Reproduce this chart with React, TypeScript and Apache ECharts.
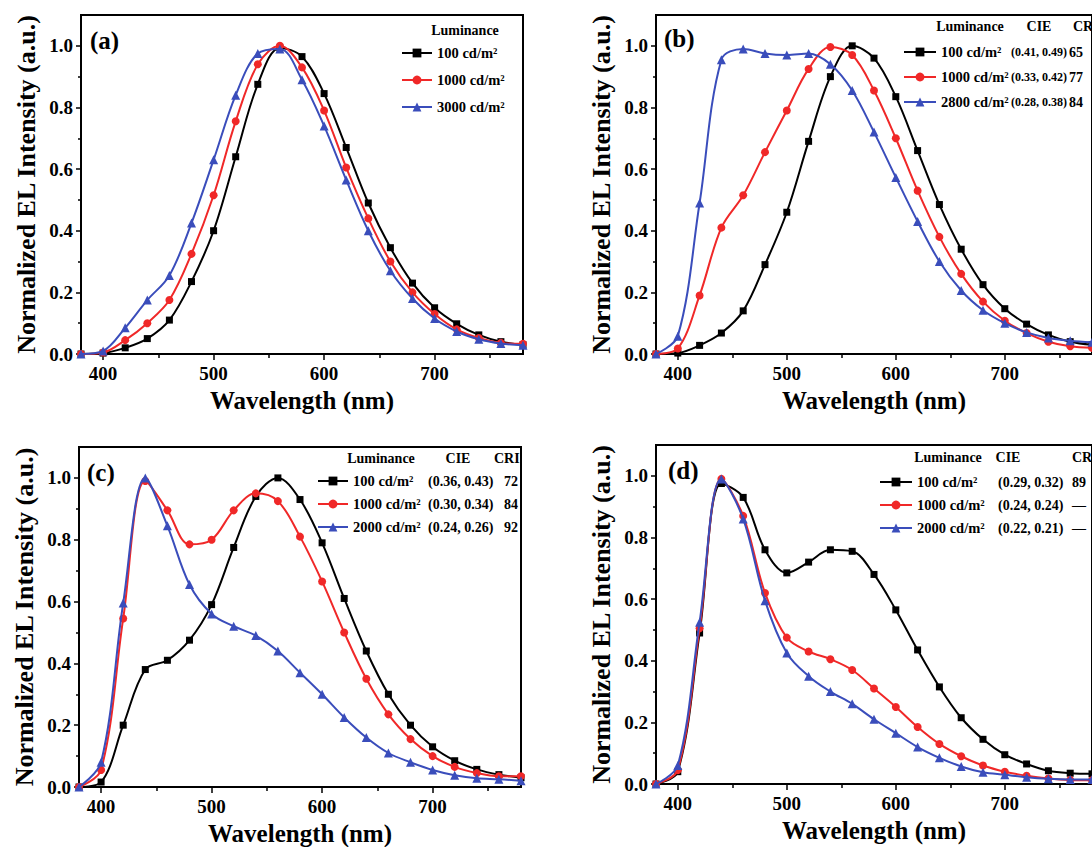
import React, { useEffect, useRef } from "react";
import * as echarts from "echarts";

// ---------- data ----------
const wavelength = [380, 400, 420, 440, 460, 480, 500, 520, 540, 560, 580, 600, 620, 640, 660, 680, 700, 720, 740, 760, 780];

const xTickLabels = [400, 500, 600, 700];
const xMinorTicks = [450, 550, 650, 750];
const yTickLabels = [0, 0.2, 0.4, 0.6, 0.8, 1.0];
const yMinorTicks = [0.1, 0.3, 0.5, 0.7, 0.9];

// (a)
const a100 = [0, 0.003, 0.02, 0.05, 0.11, 0.235, 0.4, 0.64, 0.875, 0.993, 0.965, 0.845, 0.67, 0.49, 0.345, 0.23, 0.15, 0.098, 0.062, 0.04, 0.03];
const a1000 = [0, 0.005, 0.045, 0.1, 0.175, 0.325, 0.515, 0.755, 0.94, 1.0, 0.93, 0.79, 0.605, 0.44, 0.3, 0.2, 0.13, 0.08, 0.052, 0.036, 0.033];
const a3000 = [0, 0.01, 0.085, 0.175, 0.255, 0.425, 0.63, 0.84, 0.975, 0.99, 0.89, 0.74, 0.565, 0.4, 0.27, 0.18, 0.115, 0.073, 0.048, 0.034, 0.028];
// (b)
const b100 = [0, 0.003, 0.028, 0.068, 0.14, 0.29, 0.46, 0.69, 0.9, 1.0, 0.96, 0.835, 0.66, 0.485, 0.34, 0.225, 0.147, 0.097, 0.062, 0.04, 0.03];
const b1000 = [0, 0.018, 0.19, 0.41, 0.515, 0.655, 0.79, 0.925, 0.996, 0.97, 0.855, 0.7, 0.53, 0.38, 0.26, 0.17, 0.108, 0.068, 0.04, 0.025, 0.02];
const b2800 = [0, 0.058, 0.49, 0.955, 0.99, 0.975, 0.97, 0.975, 0.94, 0.855, 0.72, 0.573, 0.43, 0.3, 0.206, 0.142, 0.1, 0.07, 0.052, 0.043, 0.038];
// (c)
const c100 = [0, 0.016, 0.2, 0.38, 0.41, 0.475, 0.59, 0.775, 0.94, 1.0, 0.93, 0.79, 0.61, 0.44, 0.3, 0.2, 0.13, 0.085, 0.057, 0.04, 0.03];
const c1000 = [0, 0.055, 0.545, 0.99, 0.895, 0.785, 0.8, 0.895, 0.95, 0.925, 0.81, 0.665, 0.5, 0.35, 0.235, 0.155, 0.1, 0.065, 0.045, 0.035, 0.035];
const c2000 = [0, 0.08, 0.595, 1.0, 0.845, 0.655, 0.56, 0.52, 0.49, 0.44, 0.37, 0.3, 0.225, 0.16, 0.11, 0.08, 0.055, 0.038, 0.028, 0.025, 0.02];
// (d)
const d100 = [0, 0.04, 0.49, 0.975, 0.93, 0.76, 0.685, 0.72, 0.76, 0.755, 0.68, 0.565, 0.435, 0.315, 0.215, 0.145, 0.095, 0.065, 0.043, 0.035, 0.033];
const d1000 = [0, 0.045, 0.505, 0.99, 0.87, 0.62, 0.475, 0.43, 0.405, 0.37, 0.31, 0.25, 0.185, 0.13, 0.09, 0.06, 0.04, 0.027, 0.018, 0.013, 0.012];
const d2000 = [0, 0.06, 0.525, 0.99, 0.86, 0.595, 0.425, 0.35, 0.3, 0.26, 0.21, 0.165, 0.12, 0.085, 0.057, 0.038, 0.03, 0.022, 0.017, 0.015, 0.015];

const namesA = ["100 cd/m²", "1000 cd/m²", "3000 cd/m²"];
const namesB = ["100 cd/m²", "1000 cd/m²", "2800 cd/m²"];
const namesC = ["100 cd/m²", "1000 cd/m²", "2000 cd/m²"];
const namesD = ["100 cd/m²", "1000 cd/m²", "2000 cd/m²"];

const cieB = ["(0.41, 0.49)", "(0.33, 0.42)", "(0.28, 0.38)"];
const criB = ["65", "77", "84"];
const cieC = ["(0.36, 0.43)", "(0.30, 0.34)", "(0.24, 0.26)"];
const criC = ["72", "84", "92"];
const cieD = ["(0.29, 0.32)", "(0.24, 0.24)", "(0.22, 0.21)"];
const criD = ["89", "—", "—"];

const panelLabels = ["(a)", "(b)", "(c)", "(d)"];

// ---------- styles ----------
const FONT = '"Liberation Serif", "Times New Roman", serif';
const COLORS = ["#000000", "#f02828", "#3a4dbb"];
const SYMBOLS = ["rect", "circle", "triangle"];
const SYMBOL_SIZES = [7, 8, 9];

type Panel = {
  grid: { left: number; top: number; width: number; height: number };
  series: number[][];
  names: string[];
  label: [number, number];
  legend: { left: number; top: number; itemWidth: number; itemGap: number };
  header: { lum: [number, number]; cie?: [number, number]; cri?: [number, number] };
  cie?: { values: string[]; x: number; fontSize: number };
  cri?: { values: string[]; x: number };
  rows: number[];
};

const panels: Panel[] = [
  {
    grid: { left: 81, top: 15, width: 442, height: 339 },
    series: [a100, a1000, a3000],
    names: namesA,
    label: [90, 40],
    legend: { left: 401, top: 45.5, itemWidth: 30, itemGap: 12 },
    header: { lum: [465, 30] },
    rows: [53, 80, 107],
  },
  {
    grid: { left: 656, top: 15, width: 442, height: 339 },
    series: [b100, b1000, b2800],
    names: namesB,
    label: [664, 38],
    legend: { left: 903, top: 44.5, itemWidth: 32, itemGap: 10 },
    header: { lum: [970, 26], cie: [1039, 26], cri: [1073, 26] },
    cie: { values: cieB, x: 1011, fontSize: 12 },
    cri: { values: criB, x: 1069 },
    rows: [52, 77, 102],
  },
  {
    grid: { left: 79, top: 447, width: 442, height: 340 },
    series: [c100, c1000, c2000],
    names: namesC,
    label: [87, 472],
    legend: { left: 317, top: 473.5, itemWidth: 30, itemGap: 8 },
    header: { lum: [381, 458], cie: [458, 458], cri: [494, 458] },
    cie: { values: cieC, x: 428, fontSize: 14 },
    cri: { values: criC, x: 504 },
    rows: [481, 504, 527],
  },
  {
    grid: { left: 656, top: 445, width: 442, height: 339 },
    series: [d100, d1000, d2000],
    names: namesD,
    label: [668, 470],
    legend: { left: 879, top: 474.5, itemWidth: 32, itemGap: 8 },
    header: { lum: [948, 457], cie: [1008, 457], cri: [1072, 457] },
    cie: { values: cieD, x: 998, fontSize: 14 },
    cri: { values: criD, x: 1072 },
    rows: [482, 505, 528],
  },
];

function boldText(text: string, x: number, y: number, fontSize: number, align: string) {
  return {
    type: "text",
    x,
    y,
    silent: true,
    style: {
      text,
      fill: "#000",
      fontSize,
      fontWeight: "bold",
      fontFamily: FONT,
      align,
      verticalAlign: "middle",
    },
  };
}

function buildOption() {
  const grid: any[] = [];
  const xAxis: any[] = [];
  const yAxis: any[] = [];
  const series: any[] = [];
  const legend: any[] = [];
  const graphic: any[] = [];

  panels.forEach((p, i) => {
    grid.push({
      ...p.grid,
      show: true,
      borderColor: "#000",
      borderWidth: 2,
      backgroundColor: "transparent",
      containLabel: false,
    });

    const tickLine = { color: "#000", width: 1.5 };
    const labelFont = { fontSize: 19, fontWeight: "bold", fontFamily: FONT, color: "#000" };

    xAxis.push({
      type: "value",
      gridIndex: i,
      min: 380,
      max: 780,
      position: "bottom",
      axisLine: { show: true, onZero: false, lineStyle: { color: "#000", width: 2 } },
      axisTick: { show: true, customValues: xTickLabels, length: 6, lineStyle: tickLine },
      axisLabel: { show: true, customValues: xTickLabels, margin: 10, ...labelFont },
      splitLine: { show: false },
      name: "Wavelength (nm)",
      nameLocation: "middle",
      nameGap: 34,
      nameTextStyle: { fontSize: 25, fontWeight: "bold", fontFamily: FONT, color: "#000" },
    });
    xAxis.push({
      type: "value",
      gridIndex: i,
      min: 380,
      max: 780,
      position: "bottom",
      axisLine: { show: false, onZero: false },
      axisTick: { show: true, customValues: xMinorTicks, length: 4, lineStyle: tickLine },
      axisLabel: { show: false, customValues: xMinorTicks },
      splitLine: { show: false },
    });
    yAxis.push({
      type: "value",
      gridIndex: i,
      min: 0,
      max: 1.1,
      position: "left",
      axisLine: { show: true, onZero: false, lineStyle: { color: "#000", width: 2 } },
      axisTick: { show: true, customValues: yTickLabels, length: 5, lineStyle: tickLine },
      axisLabel: {
        show: true,
        customValues: yTickLabels,
        margin: 8,
        formatter: (v: number) => v.toFixed(1),
        ...labelFont,
      },
      splitLine: { show: false },
      name: "Normalized EL Intensity (a.u.)",
      nameLocation: "middle",
      nameGap: 42,
      nameTextStyle: { fontSize: 26, fontWeight: "bold", fontFamily: FONT, color: "#000" },
    });
    yAxis.push({
      type: "value",
      gridIndex: i,
      min: 0,
      max: 1.1,
      position: "left",
      axisLine: { show: false, onZero: false },
      axisTick: { show: true, customValues: yMinorTicks, length: 3, lineStyle: tickLine },
      axisLabel: { show: false, customValues: yMinorTicks },
      splitLine: { show: false },
    });

    p.series.forEach((vals, k) => {
      series.push({
        type: "line",
        name: p.names[k],
        xAxisIndex: i * 2,
        yAxisIndex: i * 2,
        data: wavelength.map((w, j) => [w, vals[j]]),
        smooth: 0.35,
        symbol: SYMBOLS[k],
        symbolSize: SYMBOL_SIZES[k],
        showAllSymbol: true,
        lineStyle: { color: COLORS[k], width: 2 },
        itemStyle: { color: COLORS[k] },
        emphasis: { disabled: true },
        z: 2 + k,
      });
    });

    legend.push({
      orient: "vertical",
      left: p.legend.left,
      top: p.legend.top,
      padding: 0,
      itemWidth: p.legend.itemWidth,
      itemHeight: 11,
      itemGap: p.legend.itemGap,
      selectedMode: false,
      data: p.names,
      textStyle: { fontSize: 14.5, fontWeight: "bold", fontFamily: FONT, color: "#000" },
    });

    graphic.push(boldText(panelLabels[i], p.label[0], p.label[1], 25, "left"));
    graphic.push(boldText("Luminance", p.header.lum[0], p.header.lum[1], 14, "center"));
    if (p.header.cie) graphic.push(boldText("CIE", p.header.cie[0], p.header.cie[1], 14, "center"));
    if (p.header.cri) graphic.push(boldText("CRI", p.header.cri[0], p.header.cri[1], 14, "left"));
    if (p.cie) {
      p.cie.values.forEach((t, r) => graphic.push(boldText(t, p.cie!.x, p.rows[r], p.cie!.fontSize, "left")));
    }
    if (p.cri) {
      p.cri.values.forEach((t, r) => graphic.push(boldText(t, p.cri!.x, p.rows[r], 14, "left")));
    }
  });

  return {
    animation: false,
    backgroundColor: "#ffffff",
    grid,
    xAxis,
    yAxis,
    series,
    legend,
    graphic,
  };
}

export default function App() {
  const ref = useRef<HTMLDivElement>(null);
  useEffect(() => {
    if (!ref.current) return;
    const chart = echarts.init(ref.current, null, { renderer: "svg" });
    chart.setOption(buildOption() as any);
    return () => {
      chart.dispose();
    };
  }, []);
  return (
    <div
      ref={ref}
      style={{ position: "fixed", left: 0, top: 0, width: 1092, height: 847, background: "#fff" }}
    />
  );
}
